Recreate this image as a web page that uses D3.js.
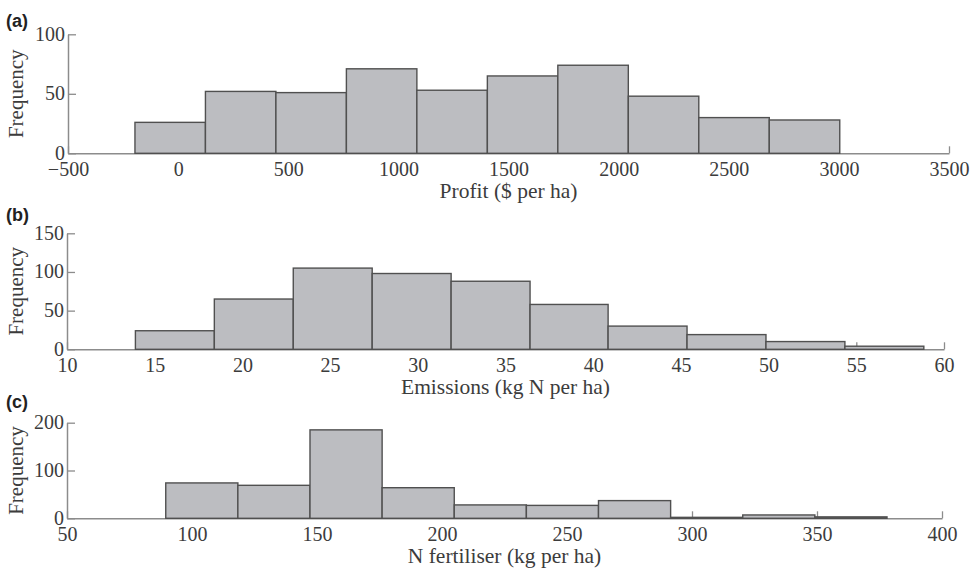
<!DOCTYPE html>
<html>
<head>
<meta charset="utf-8">
<script src="https://cdn.jsdelivr.net/npm/d3@7"></script>
<style>
  html, body { margin: 0; padding: 0; background: #fff; }
  svg { display: block; }
</style>
</head>
<body>
<svg id="chart" width="978" height="572"></svg>
<script>
// ---- Data ----
const profitEdges = [-196, 124, 444, 764, 1084, 1404, 1724, 2044, 2364, 2684, 3004];
const profitCounts = [26, 52, 51, 71, 53, 65, 74, 48, 30, 28];
const profitXTicks = [-500, 0, 500, 1000, 1500, 2000, 2500, 3000, 3500];
const profitYTicks = [0, 50, 100];

const emissionsEdges = [13.9, 18.4, 22.9, 27.4, 31.9, 36.4, 40.85, 45.35, 49.85, 54.35, 58.85];
const emissionsCounts = [24, 65, 105, 98, 88, 58, 30, 19, 10, 4];
const emissionsXTicks = [10, 15, 20, 25, 30, 35, 40, 45, 50, 55, 60];
const emissionsYTicks = [0, 50, 100, 150];

const fertEdges = [89.5, 118.35, 147.2, 176.05, 204.9, 233.75, 262.6, 291.45, 320.3, 349.15, 378.0];
const fertCounts = [74, 69, 185, 64, 28, 27, 37, 2, 7, 3];
const fertXTicks = [50, 100, 150, 200, 250, 300, 350, 400];
const fertYTicks = [0, 100, 200];

const panelLabels = ["(a)", "(b)", "(c)"];
const xLabels = ["Profit ($ per ha)", "Emissions (kg N per ha)", "N fertiliser (kg per ha)"];
const yLabel = "Frequency";

// ---- Layout ----
const panels = [
  { edges: profitEdges, counts: profitCounts, xt: profitXTicks, yt: profitYTicks,
    x0: 68, x1: 949, yTop: 34.3, yBot: 153.3, labelY: 27, labelTxt: panelLabels[0], xLab: xLabels[0] },
  { edges: emissionsEdges, counts: emissionsCounts, xt: emissionsXTicks, yt: emissionsYTicks,
    x0: 67, x1: 944, yTop: 233.3, yBot: 349.3, labelY: 221, labelTxt: panelLabels[1], xLab: xLabels[1] },
  { edges: fertEdges, counts: fertCounts, xt: fertXTicks, yt: fertYTicks,
    x0: 67, x1: 942, yTop: 422.7, yBot: 518.3, labelY: 408, labelTxt: panelLabels[2], xLab: xLabels[2] }
];

const svg = d3.select("#chart");
const axisColor = "#8c8c8c";
const textColor = "#3c3c3c";
const serif = "'Liberation Serif', 'Times New Roman', serif";

panels.forEach(p => {
  const xs = d3.scaleLinear().domain([p.xt[0], p.xt[p.xt.length - 1]]).range([p.x0, p.x1]);
  const ys = d3.scaleLinear().domain([p.yt[0], p.yt[p.yt.length - 1]]).range([p.yBot, p.yTop]);
  const g = svg.append("g");

  // X axis (ticks pointing inward/up)
  const xAxis = d3.axisBottom(xs).tickValues(p.xt).tickSizeInner(-7).tickSizeOuter(0)
    .tickFormat(d => d < 0 ? "\u2212" + Math.abs(d) : String(d));
  const gx = g.append("g").attr("transform", `translate(0,${p.yBot})`).call(xAxis);
  gx.select(".domain").attr("stroke", axisColor).attr("stroke-width", 1.5);
  gx.selectAll(".tick line").attr("stroke", axisColor).attr("stroke-width", 1.3);
  gx.selectAll(".tick text").attr("font-family", serif).attr("font-size", 20)
    .attr("fill", textColor).attr("dy", null).attr("y", 23);

  // Y axis (ticks pointing inward/right)
  const yAxis = d3.axisLeft(ys).tickValues(p.yt).tickSizeInner(-8).tickSizeOuter(0);
  const gy = g.append("g").attr("transform", `translate(${p.x0},0)`).call(yAxis);
  gy.select(".domain").attr("stroke", axisColor).attr("stroke-width", 1.5);
  gy.selectAll(".tick line").attr("stroke", axisColor).attr("stroke-width", 1.3);
  gy.selectAll(".tick text").attr("font-family", serif).attr("font-size", 20)
    .attr("fill", textColor).attr("x", -3).attr("dy", "0.3em");

  // Bars
  const bins = p.counts.map((c, i) => ({ x0: p.edges[i], x1: p.edges[i + 1], c }));
  g.append("g").selectAll("rect").data(bins).join("rect")
    .attr("x", d => xs(d.x0))
    .attr("width", d => xs(d.x1) - xs(d.x0))
    .attr("y", d => ys(d.c))
    .attr("height", d => ys(0) - ys(d.c))
    .attr("fill", "#bcbdc1")
    .attr("stroke", "#505050")
    .attr("stroke-width", 1.4);

  // X label
  g.append("text").attr("x", (p.x0 + p.x1) / 2).attr("y", p.yBot + 45)
    .attr("text-anchor", "middle").attr("font-family", serif).attr("font-size", 21.5)
    .attr("fill", textColor).text(p.xLab);

  // Y label
  g.append("text")
    .attr("transform", `translate(23,${(p.yTop + p.yBot) / 2}) rotate(-90)`)
    .attr("text-anchor", "middle").attr("font-family", serif).attr("font-size", 21)
    .attr("fill", textColor).text(yLabel);

  // Panel label
  g.append("text").attr("x", 6).attr("y", p.labelY)
    .attr("font-family", "'Liberation Sans', Arial, sans-serif").attr("font-weight", "bold")
    .attr("font-size", 18).attr("fill", "#222").text(p.labelTxt);
});
</script>
</body>
</html>
